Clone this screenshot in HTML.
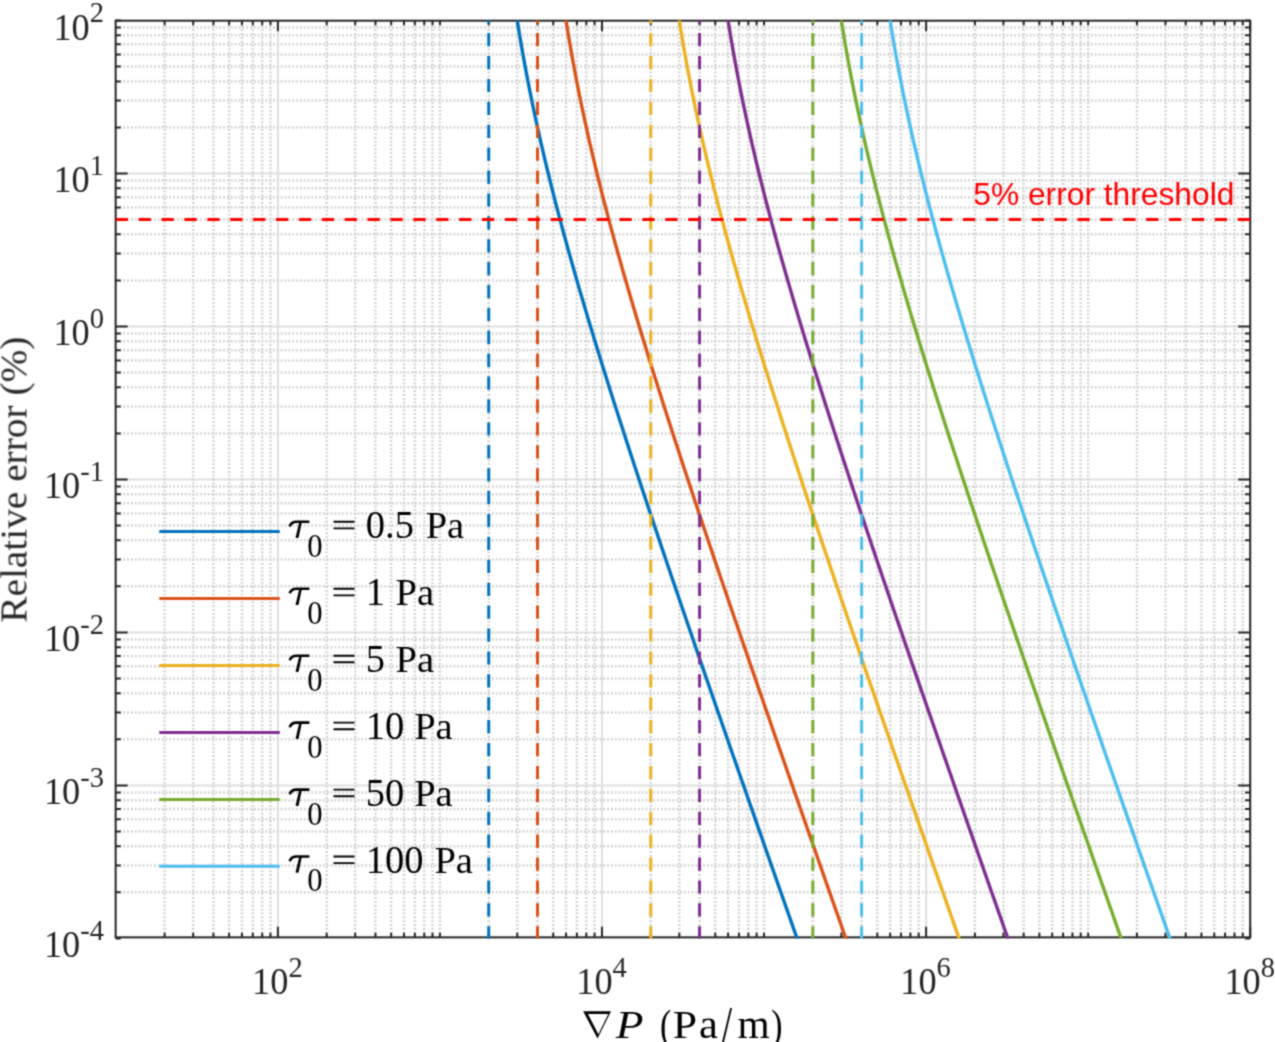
<!DOCTYPE html>
<html><head><meta charset="utf-8"><style>
html,body{margin:0;padding:0;background:#fff;overflow:hidden;width:1275px;height:1042px}
svg{display:block}

text{font-kerning:none}
</style></head><body>
<svg width="1275" height="1042" viewBox="0 0 1275 1042">
<defs><filter id="bl" x="0" y="0" width="1275" height="1042" filterUnits="userSpaceOnUse" color-interpolation-filters="sRGB"><feConvolveMatrix order="3" kernelMatrix="1 3 1 3 9 3 1 3 1" edgeMode="duplicate"/></filter></defs>
<g filter="url(#bl)">
<defs><clipPath id="ax"><rect x="115.65" y="20.5" width="1134.55" height="917.9"/></clipPath></defs>
<rect width="1275" height="1042" fill="#fff"/>
<path d="M277.90 937.35V20.7M602.00 937.35V20.7M926.10 937.35V20.7M115.65 785.40H1250.2M115.65 632.42H1250.2M115.65 479.44H1250.2M115.65 326.46H1250.2M115.65 173.48H1250.2" stroke="#e0e0e0" stroke-width="2.0" fill="none"/>
<path d="M164.63 937.35V20.7M193.17 937.35V20.7M213.41 937.35V20.7M229.12 937.35V20.7M241.95 937.35V20.7M252.80 937.35V20.7M262.20 937.35V20.7M270.48 937.35V20.7M326.68 937.35V20.7M355.22 937.35V20.7M375.46 937.35V20.7M391.17 937.35V20.7M404.00 937.35V20.7M414.85 937.35V20.7M424.25 937.35V20.7M432.53 937.35V20.7M439.95 937.35V20.7M488.73 937.35V20.7M517.27 937.35V20.7M537.51 937.35V20.7M553.22 937.35V20.7M566.05 937.35V20.7M576.90 937.35V20.7M586.30 937.35V20.7M594.58 937.35V20.7M650.78 937.35V20.7M679.32 937.35V20.7M699.56 937.35V20.7M715.27 937.35V20.7M728.10 937.35V20.7M738.95 937.35V20.7M748.35 937.35V20.7M756.63 937.35V20.7M764.05 937.35V20.7M812.83 937.35V20.7M841.37 937.35V20.7M861.61 937.35V20.7M877.32 937.35V20.7M890.15 937.35V20.7M901.00 937.35V20.7M910.40 937.35V20.7M918.68 937.35V20.7M974.88 937.35V20.7M1003.42 937.35V20.7M1023.66 937.35V20.7M1039.37 937.35V20.7M1052.20 937.35V20.7M1063.05 937.35V20.7M1072.45 937.35V20.7M1080.73 937.35V20.7M1088.15 937.35V20.7M1136.93 937.35V20.7M1165.47 937.35V20.7M1185.71 937.35V20.7M1201.42 937.35V20.7M1214.25 937.35V20.7M1225.10 937.35V20.7M1234.50 937.35V20.7M1242.78 937.35V20.7M115.65 892.33H1250.2M115.65 865.39H1250.2M115.65 846.28H1250.2M115.65 831.45H1250.2M115.65 819.34H1250.2M115.65 809.10H1250.2M115.65 800.23H1250.2M115.65 792.40H1250.2M115.65 739.35H1250.2M115.65 712.41H1250.2M115.65 693.30H1250.2M115.65 678.47H1250.2M115.65 666.36H1250.2M115.65 656.12H1250.2M115.65 647.25H1250.2M115.65 639.42H1250.2M115.65 586.37H1250.2M115.65 559.43H1250.2M115.65 540.32H1250.2M115.65 525.49H1250.2M115.65 513.38H1250.2M115.65 503.14H1250.2M115.65 494.27H1250.2M115.65 486.44H1250.2M115.65 433.39H1250.2M115.65 406.45H1250.2M115.65 387.34H1250.2M115.65 372.51H1250.2M115.65 360.40H1250.2M115.65 350.16H1250.2M115.65 341.29H1250.2M115.65 333.46H1250.2M115.65 280.41H1250.2M115.65 253.47H1250.2M115.65 234.36H1250.2M115.65 219.53H1250.2M115.65 207.42H1250.2M115.65 197.18H1250.2M115.65 188.31H1250.2M115.65 180.48H1250.2M115.65 127.43H1250.2M115.65 100.49H1250.2M115.65 81.38H1250.2M115.65 66.55H1250.2M115.65 54.44H1250.2M115.65 44.20H1250.2M115.65 35.33H1250.2M115.65 27.50H1250.2" stroke="#d1d1d1" stroke-width="2.5" stroke-dasharray="1.8 2.04" fill="none"/>
<path d="M164.63 937.35v-4.6M164.63 20.7v4.6M193.17 937.35v-4.6M193.17 20.7v4.6M213.41 937.35v-4.6M213.41 20.7v4.6M229.12 937.35v-4.6M229.12 20.7v4.6M241.95 937.35v-4.6M241.95 20.7v4.6M252.80 937.35v-4.6M252.80 20.7v4.6M262.20 937.35v-4.6M262.20 20.7v4.6M270.48 937.35v-4.6M270.48 20.7v4.6M277.90 937.35v-10.6M277.90 20.7v10.6M326.68 937.35v-4.6M326.68 20.7v4.6M355.22 937.35v-4.6M355.22 20.7v4.6M375.46 937.35v-4.6M375.46 20.7v4.6M391.17 937.35v-4.6M391.17 20.7v4.6M404.00 937.35v-4.6M404.00 20.7v4.6M414.85 937.35v-4.6M414.85 20.7v4.6M424.25 937.35v-4.6M424.25 20.7v4.6M432.53 937.35v-4.6M432.53 20.7v4.6M439.95 937.35v-4.6M439.95 20.7v4.6M488.73 937.35v-4.6M488.73 20.7v4.6M517.27 937.35v-4.6M517.27 20.7v4.6M537.51 937.35v-4.6M537.51 20.7v4.6M553.22 937.35v-4.6M553.22 20.7v4.6M566.05 937.35v-4.6M566.05 20.7v4.6M576.90 937.35v-4.6M576.90 20.7v4.6M586.30 937.35v-4.6M586.30 20.7v4.6M594.58 937.35v-4.6M594.58 20.7v4.6M602.00 937.35v-10.6M602.00 20.7v10.6M650.78 937.35v-4.6M650.78 20.7v4.6M679.32 937.35v-4.6M679.32 20.7v4.6M699.56 937.35v-4.6M699.56 20.7v4.6M715.27 937.35v-4.6M715.27 20.7v4.6M728.10 937.35v-4.6M728.10 20.7v4.6M738.95 937.35v-4.6M738.95 20.7v4.6M748.35 937.35v-4.6M748.35 20.7v4.6M756.63 937.35v-4.6M756.63 20.7v4.6M764.05 937.35v-4.6M764.05 20.7v4.6M812.83 937.35v-4.6M812.83 20.7v4.6M841.37 937.35v-4.6M841.37 20.7v4.6M861.61 937.35v-4.6M861.61 20.7v4.6M877.32 937.35v-4.6M877.32 20.7v4.6M890.15 937.35v-4.6M890.15 20.7v4.6M901.00 937.35v-4.6M901.00 20.7v4.6M910.40 937.35v-4.6M910.40 20.7v4.6M918.68 937.35v-4.6M918.68 20.7v4.6M926.10 937.35v-10.6M926.10 20.7v10.6M974.88 937.35v-4.6M974.88 20.7v4.6M1003.42 937.35v-4.6M1003.42 20.7v4.6M1023.66 937.35v-4.6M1023.66 20.7v4.6M1039.37 937.35v-4.6M1039.37 20.7v4.6M1052.20 937.35v-4.6M1052.20 20.7v4.6M1063.05 937.35v-4.6M1063.05 20.7v4.6M1072.45 937.35v-4.6M1072.45 20.7v4.6M1080.73 937.35v-4.6M1080.73 20.7v4.6M1088.15 937.35v-4.6M1088.15 20.7v4.6M1136.93 937.35v-4.6M1136.93 20.7v4.6M1165.47 937.35v-4.6M1165.47 20.7v4.6M1185.71 937.35v-4.6M1185.71 20.7v4.6M1201.42 937.35v-4.6M1201.42 20.7v4.6M1214.25 937.35v-4.6M1214.25 20.7v4.6M1225.10 937.35v-4.6M1225.10 20.7v4.6M1234.50 937.35v-4.6M1234.50 20.7v4.6M1242.78 937.35v-4.6M1242.78 20.7v4.6M1250.20 937.35v-10.6M1250.20 20.7v10.6M115.65 938.38h5.1M1250.2 938.38h-5.1M115.65 892.33h5.1M1250.2 892.33h-5.1M115.65 865.39h5.1M1250.2 865.39h-5.1M115.65 846.28h5.1M1250.2 846.28h-5.1M115.65 831.45h5.1M1250.2 831.45h-5.1M115.65 819.34h5.1M1250.2 819.34h-5.1M115.65 809.10h5.1M1250.2 809.10h-5.1M115.65 800.23h5.1M1250.2 800.23h-5.1M115.65 792.40h5.1M1250.2 792.40h-5.1M115.65 785.40h12.0M1250.2 785.40h-12.0M115.65 739.35h5.1M1250.2 739.35h-5.1M115.65 712.41h5.1M1250.2 712.41h-5.1M115.65 693.30h5.1M1250.2 693.30h-5.1M115.65 678.47h5.1M1250.2 678.47h-5.1M115.65 666.36h5.1M1250.2 666.36h-5.1M115.65 656.12h5.1M1250.2 656.12h-5.1M115.65 647.25h5.1M1250.2 647.25h-5.1M115.65 639.42h5.1M1250.2 639.42h-5.1M115.65 632.42h12.0M1250.2 632.42h-12.0M115.65 586.37h5.1M1250.2 586.37h-5.1M115.65 559.43h5.1M1250.2 559.43h-5.1M115.65 540.32h5.1M1250.2 540.32h-5.1M115.65 525.49h5.1M1250.2 525.49h-5.1M115.65 513.38h5.1M1250.2 513.38h-5.1M115.65 503.14h5.1M1250.2 503.14h-5.1M115.65 494.27h5.1M1250.2 494.27h-5.1M115.65 486.44h5.1M1250.2 486.44h-5.1M115.65 479.44h12.0M1250.2 479.44h-12.0M115.65 433.39h5.1M1250.2 433.39h-5.1M115.65 406.45h5.1M1250.2 406.45h-5.1M115.65 387.34h5.1M1250.2 387.34h-5.1M115.65 372.51h5.1M1250.2 372.51h-5.1M115.65 360.40h5.1M1250.2 360.40h-5.1M115.65 350.16h5.1M1250.2 350.16h-5.1M115.65 341.29h5.1M1250.2 341.29h-5.1M115.65 333.46h5.1M1250.2 333.46h-5.1M115.65 326.46h12.0M1250.2 326.46h-12.0M115.65 280.41h5.1M1250.2 280.41h-5.1M115.65 253.47h5.1M1250.2 253.47h-5.1M115.65 234.36h5.1M1250.2 234.36h-5.1M115.65 219.53h5.1M1250.2 219.53h-5.1M115.65 207.42h5.1M1250.2 207.42h-5.1M115.65 197.18h5.1M1250.2 197.18h-5.1M115.65 188.31h5.1M1250.2 188.31h-5.1M115.65 180.48h5.1M1250.2 180.48h-5.1M115.65 173.48h12.0M1250.2 173.48h-12.0M115.65 127.43h5.1M1250.2 127.43h-5.1M115.65 100.49h5.1M1250.2 100.49h-5.1M115.65 81.38h5.1M1250.2 81.38h-5.1M115.65 66.55h5.1M1250.2 66.55h-5.1M115.65 54.44h5.1M1250.2 54.44h-5.1M115.65 44.20h5.1M1250.2 44.20h-5.1M115.65 35.33h5.1M1250.2 35.33h-5.1M115.65 27.50h5.1M1250.2 27.50h-5.1M115.65 20.50h5.1M1250.2 20.50h-5.1" stroke="#262626" stroke-width="2.0" fill="none"/>
<rect x="115.65" y="20.7" width="1134.55" height="916.65" stroke="#262626" stroke-width="2.0" fill="none"/>
<g clip-path="url(#ax)" fill="none">
<path d="M512.41 -12.56 L513.58 -4.21 L514.74 3.86 L515.90 11.66 L517.07 19.23 L518.23 26.57 L519.40 33.72 L520.56 40.68 L521.72 47.48 L522.89 54.11 L524.05 60.59 L525.22 66.94 L526.38 73.15 L527.54 79.25 L528.71 85.23 L529.87 91.11 L531.04 96.88 L532.20 102.56 L533.36 108.15 L534.53 113.66 L535.69 119.09 L536.86 124.44 L538.02 129.72 L539.18 134.93 L540.35 140.07 L541.51 145.16 L542.68 150.18 L543.84 155.15 L545.00 160.07 L546.17 164.93 L547.33 169.75 L548.50 174.52 L549.66 179.24 L550.82 183.92 L551.99 188.56 L553.15 193.16 L554.32 197.72 L555.48 202.25 L556.64 206.74 L557.81 211.19 L558.97 215.62 L560.14 220.01 L561.30 224.37 L562.46 228.71 L563.63 233.01 L564.79 237.29 L565.96 241.55 L567.12 245.77 L568.28 249.98 L569.45 254.16 L570.61 258.32 L571.78 262.45 L572.94 266.57 L574.10 270.66 L575.27 274.74 L576.43 278.79 L577.60 282.83 L578.76 286.85 L579.92 290.85 L581.09 294.83 L582.25 298.80 L583.42 302.75 L584.58 306.69 L585.74 310.61 L586.91 314.51 L588.07 318.41 L589.24 322.29 L590.40 326.15 L591.56 330.00 L592.73 333.84 L593.89 337.67 L595.06 341.49 L596.22 345.29 L597.38 349.08 L598.55 352.87 L599.71 356.64 L600.88 360.40 L602.04 364.15 L603.20 367.89 L604.37 371.62 L605.53 375.34 L606.70 379.06 L607.86 382.76 L609.02 386.45 L610.19 390.14 L611.35 393.82 L612.52 397.49 L613.68 401.15 L614.84 404.81 L616.01 408.46 L617.17 412.10 L618.34 415.73 L619.50 419.36 L620.66 422.98 L621.83 426.59 L622.99 430.20 L624.16 433.80 L625.32 437.39 L626.48 440.98 L627.65 444.56 L628.81 448.14 L629.98 451.71 L631.14 455.28 L632.30 458.84 L633.47 462.39 L634.63 465.94 L635.80 469.49 L636.96 473.03 L638.12 476.57 L639.29 480.10 L640.45 483.62 L641.62 487.15 L642.78 490.66 L643.94 494.18 L645.11 497.69 L646.27 501.19 L647.44 504.69 L648.60 508.19 L649.76 511.68 L650.93 515.17 L652.09 518.66 L653.26 522.14 L654.42 525.62 L655.58 529.10 L656.75 532.57 L657.91 536.04 L659.08 539.50 L660.24 542.97 L661.40 546.43 L662.57 549.88 L663.73 553.34 L664.90 556.79 L666.06 560.23 L667.22 563.68 L668.39 567.12 L669.55 570.56 L670.72 574.00 L671.88 577.43 L673.04 580.86 L674.21 584.29 L675.37 587.72 L676.54 591.15 L677.70 594.57 L678.86 597.99 L680.03 601.41 L681.19 604.82 L682.36 608.24 L683.52 611.65 L684.68 615.06 L685.85 618.46 L687.01 621.87 L688.18 625.27 L689.34 628.67 L690.50 632.07 L691.67 635.47 L692.83 638.87 L694.00 642.26 L695.16 645.65 L696.32 649.04 L697.49 652.43 L698.65 655.82 L699.82 659.21 L700.98 662.59 L702.14 665.97 L703.31 669.36 L704.47 672.74 L705.64 676.11 L706.80 679.49 L707.97 682.87 L709.13 686.24 L710.29 689.61 L711.46 692.98 L712.62 696.35 L713.79 699.72 L714.95 703.09 L716.11 706.46 L717.28 709.82 L718.44 713.19 L719.61 716.55 L720.77 719.91 L721.93 723.27 L723.10 726.63 L724.26 729.99 L725.43 733.35 L726.59 736.70 L727.75 740.06 L728.92 743.41 L730.08 746.76 L731.25 750.12 L732.41 753.47 L733.57 756.82 L734.74 760.17 L735.90 763.52 L737.07 766.86 L738.23 770.21 L739.39 773.56 L740.56 776.90 L741.72 780.25 L742.89 783.59 L744.05 786.93 L745.21 790.27 L746.38 793.61 L747.54 796.95 L748.71 800.29 L749.87 803.63 L751.03 806.97 L752.20 810.31 L753.36 813.64 L754.53 816.98 L755.69 820.32 L756.85 823.65 L758.02 826.98 L759.18 830.32 L760.35 833.65 L761.51 836.98 L762.67 840.31 L763.84 843.64 L765.00 846.98 L766.17 850.31 L767.33 853.63 L768.49 856.96 L769.66 860.29 L770.82 863.62 L771.99 866.95 L773.15 870.27 L774.31 873.60 L775.48 876.92 L776.64 880.25 L777.81 883.57 L778.97 886.90 L780.13 890.22 L781.30 893.54 L782.46 896.87 L783.63 900.19 L784.79 903.51 L785.95 906.83 L787.12 910.15 L788.28 913.47 L789.45 916.79 L790.61 920.11 L791.77 923.43 L792.94 926.75 L794.10 930.07 L795.27 933.39 L796.43 936.71 L797.59 940.03 L798.76 943.34 L799.92 946.66 L801.09 949.98 L802.25 953.29 L803.41 956.61 L804.58 959.92 L805.74 963.24 L806.91 966.55 L808.07 969.87 L809.23 973.18 L810.40 976.50 L811.56 979.81 L812.73 983.12 L813.89 986.44 L815.05 989.75 L816.22 993.06 L817.38 996.38 L818.55 999.69 L819.71 1003.00 L820.87 1006.31 L822.04 1009.62 L823.20 1012.93 L824.37 1016.24 L825.53 1019.56 L826.69 1022.87 L827.86 1026.18 L829.02 1029.49 L830.19 1032.80 L831.35 1036.11 L832.51 1039.41 L833.68 1042.72 L834.84 1046.03 L836.01 1049.34 L837.17 1052.65 L838.33 1055.96 L839.50 1059.27 L840.66 1062.57 L841.83 1065.88 L842.99 1069.19 L844.15 1072.50 L845.32 1075.80 L846.48 1079.11 L847.65 1082.42 L848.81 1085.72 L849.97 1089.03 L851.14 1092.34 L852.30 1095.64 L853.47 1098.95 L854.63 1102.25 L855.79 1105.56 L856.96 1108.87 L858.12 1112.17 L859.29 1115.48 L860.45 1118.78 L861.61 1122.09" stroke="#0072BD" stroke-width="3.4" stroke-linejoin="round"/>
<path d="M488.73 939.4V20" stroke="#0072BD" stroke-width="3.0" stroke-dasharray="13.2 9.7"/>
<path d="M561.19 -12.56 L562.36 -4.21 L563.52 3.86 L564.69 11.66 L565.85 19.23 L567.01 26.57 L568.18 33.72 L569.34 40.68 L570.51 47.48 L571.67 54.11 L572.83 60.59 L574.00 66.94 L575.16 73.15 L576.33 79.25 L577.49 85.23 L578.65 91.11 L579.82 96.88 L580.98 102.56 L582.15 108.15 L583.31 113.66 L584.47 119.09 L585.64 124.44 L586.80 129.72 L587.97 134.93 L589.13 140.07 L590.29 145.16 L591.46 150.18 L592.62 155.15 L593.79 160.07 L594.95 164.93 L596.11 169.75 L597.28 174.52 L598.44 179.24 L599.61 183.92 L600.77 188.56 L601.93 193.16 L603.10 197.72 L604.26 202.25 L605.43 206.74 L606.59 211.19 L607.75 215.62 L608.92 220.01 L610.08 224.37 L611.25 228.71 L612.41 233.01 L613.57 237.29 L614.74 241.55 L615.90 245.77 L617.07 249.98 L618.23 254.16 L619.39 258.32 L620.56 262.45 L621.72 266.57 L622.89 270.66 L624.05 274.74 L625.21 278.79 L626.38 282.83 L627.54 286.85 L628.71 290.85 L629.87 294.83 L631.03 298.80 L632.20 302.75 L633.36 306.69 L634.53 310.61 L635.69 314.51 L636.85 318.41 L638.02 322.29 L639.18 326.15 L640.35 330.00 L641.51 333.84 L642.67 337.67 L643.84 341.49 L645.00 345.29 L646.17 349.08 L647.33 352.87 L648.49 356.64 L649.66 360.40 L650.82 364.15 L651.99 367.89 L653.15 371.62 L654.31 375.34 L655.48 379.06 L656.64 382.76 L657.81 386.45 L658.97 390.14 L660.13 393.82 L661.30 397.49 L662.46 401.15 L663.63 404.81 L664.79 408.46 L665.95 412.10 L667.12 415.73 L668.28 419.36 L669.45 422.98 L670.61 426.59 L671.77 430.20 L672.94 433.80 L674.10 437.39 L675.27 440.98 L676.43 444.56 L677.59 448.14 L678.76 451.71 L679.92 455.28 L681.09 458.84 L682.25 462.39 L683.41 465.94 L684.58 469.49 L685.74 473.03 L686.91 476.57 L688.07 480.10 L689.23 483.62 L690.40 487.15 L691.56 490.66 L692.73 494.18 L693.89 497.69 L695.05 501.19 L696.22 504.69 L697.38 508.19 L698.55 511.68 L699.71 515.17 L700.87 518.66 L702.04 522.14 L703.20 525.62 L704.37 529.10 L705.53 532.57 L706.69 536.04 L707.86 539.50 L709.02 542.97 L710.19 546.43 L711.35 549.88 L712.51 553.34 L713.68 556.79 L714.84 560.23 L716.01 563.68 L717.17 567.12 L718.33 570.56 L719.50 574.00 L720.66 577.43 L721.83 580.86 L722.99 584.29 L724.15 587.72 L725.32 591.15 L726.48 594.57 L727.65 597.99 L728.81 601.41 L729.97 604.82 L731.14 608.24 L732.30 611.65 L733.47 615.06 L734.63 618.46 L735.79 621.87 L736.96 625.27 L738.12 628.67 L739.29 632.07 L740.45 635.47 L741.61 638.87 L742.78 642.26 L743.94 645.65 L745.11 649.04 L746.27 652.43 L747.43 655.82 L748.60 659.21 L749.76 662.59 L750.93 665.97 L752.09 669.36 L753.25 672.74 L754.42 676.11 L755.58 679.49 L756.75 682.87 L757.91 686.24 L759.07 689.61 L760.24 692.98 L761.40 696.35 L762.57 699.72 L763.73 703.09 L764.89 706.46 L766.06 709.82 L767.22 713.19 L768.39 716.55 L769.55 719.91 L770.71 723.27 L771.88 726.63 L773.04 729.99 L774.21 733.35 L775.37 736.70 L776.54 740.06 L777.70 743.41 L778.86 746.76 L780.03 750.12 L781.19 753.47 L782.36 756.82 L783.52 760.17 L784.68 763.52 L785.85 766.86 L787.01 770.21 L788.18 773.56 L789.34 776.90 L790.50 780.25 L791.67 783.59 L792.83 786.93 L794.00 790.27 L795.16 793.61 L796.32 796.95 L797.49 800.29 L798.65 803.63 L799.82 806.97 L800.98 810.31 L802.14 813.64 L803.31 816.98 L804.47 820.32 L805.64 823.65 L806.80 826.98 L807.96 830.32 L809.13 833.65 L810.29 836.98 L811.46 840.31 L812.62 843.64 L813.78 846.98 L814.95 850.31 L816.11 853.63 L817.28 856.96 L818.44 860.29 L819.60 863.62 L820.77 866.95 L821.93 870.27 L823.10 873.60 L824.26 876.92 L825.42 880.25 L826.59 883.57 L827.75 886.90 L828.92 890.22 L830.08 893.54 L831.24 896.87 L832.41 900.19 L833.57 903.51 L834.74 906.83 L835.90 910.15 L837.06 913.47 L838.23 916.79 L839.39 920.11 L840.56 923.43 L841.72 926.75 L842.88 930.07 L844.05 933.39 L845.21 936.71 L846.38 940.03 L847.54 943.34 L848.70 946.66 L849.87 949.98 L851.03 953.29 L852.20 956.61 L853.36 959.92 L854.52 963.24 L855.69 966.55 L856.85 969.87 L858.02 973.18 L859.18 976.50 L860.34 979.81 L861.51 983.12 L862.67 986.44 L863.84 989.75 L865.00 993.06 L866.16 996.38 L867.33 999.69 L868.49 1003.00 L869.66 1006.31 L870.82 1009.62 L871.98 1012.93 L873.15 1016.24 L874.31 1019.56 L875.48 1022.87 L876.64 1026.18 L877.80 1029.49 L878.97 1032.80 L880.13 1036.11 L881.30 1039.41 L882.46 1042.72 L883.62 1046.03 L884.79 1049.34 L885.95 1052.65 L887.12 1055.96 L888.28 1059.27 L889.44 1062.57 L890.61 1065.88 L891.77 1069.19 L892.94 1072.50 L894.10 1075.80 L895.26 1079.11 L896.43 1082.42 L897.59 1085.72 L898.76 1089.03 L899.92 1092.34 L901.08 1095.64 L902.25 1098.95 L903.41 1102.25 L904.58 1105.56 L905.74 1108.87 L906.90 1112.17 L908.07 1115.48 L909.23 1118.78 L910.40 1122.09" stroke="#D95319" stroke-width="3.4" stroke-linejoin="round"/>
<path d="M537.51 939.4V20" stroke="#D95319" stroke-width="3.0" stroke-dasharray="13.2 9.7"/>
<path d="M674.46 -12.56 L675.63 -4.21 L676.79 3.86 L677.95 11.66 L679.12 19.23 L680.28 26.57 L681.45 33.72 L682.61 40.68 L683.77 47.48 L684.94 54.11 L686.10 60.59 L687.27 66.94 L688.43 73.15 L689.59 79.25 L690.76 85.23 L691.92 91.11 L693.09 96.88 L694.25 102.56 L695.41 108.15 L696.58 113.66 L697.74 119.09 L698.91 124.44 L700.07 129.72 L701.23 134.93 L702.40 140.07 L703.56 145.16 L704.73 150.18 L705.89 155.15 L707.05 160.07 L708.22 164.93 L709.38 169.75 L710.55 174.52 L711.71 179.24 L712.87 183.92 L714.04 188.56 L715.20 193.16 L716.37 197.72 L717.53 202.25 L718.69 206.74 L719.86 211.19 L721.02 215.62 L722.19 220.01 L723.35 224.37 L724.51 228.71 L725.68 233.01 L726.84 237.29 L728.01 241.55 L729.17 245.77 L730.33 249.98 L731.50 254.16 L732.66 258.32 L733.83 262.45 L734.99 266.57 L736.15 270.66 L737.32 274.74 L738.48 278.79 L739.65 282.83 L740.81 286.85 L741.97 290.85 L743.14 294.83 L744.30 298.80 L745.47 302.75 L746.63 306.69 L747.79 310.61 L748.96 314.51 L750.12 318.41 L751.29 322.29 L752.45 326.15 L753.61 330.00 L754.78 333.84 L755.94 337.67 L757.11 341.49 L758.27 345.29 L759.43 349.08 L760.60 352.87 L761.76 356.64 L762.93 360.40 L764.09 364.15 L765.25 367.89 L766.42 371.62 L767.58 375.34 L768.75 379.06 L769.91 382.76 L771.07 386.45 L772.24 390.14 L773.40 393.82 L774.57 397.49 L775.73 401.15 L776.89 404.81 L778.06 408.46 L779.22 412.10 L780.39 415.73 L781.55 419.36 L782.71 422.98 L783.88 426.59 L785.04 430.20 L786.21 433.80 L787.37 437.39 L788.53 440.98 L789.70 444.56 L790.86 448.14 L792.03 451.71 L793.19 455.28 L794.35 458.84 L795.52 462.39 L796.68 465.94 L797.85 469.49 L799.01 473.03 L800.17 476.57 L801.34 480.10 L802.50 483.62 L803.67 487.15 L804.83 490.66 L805.99 494.18 L807.16 497.69 L808.32 501.19 L809.49 504.69 L810.65 508.19 L811.81 511.68 L812.98 515.17 L814.14 518.66 L815.31 522.14 L816.47 525.62 L817.63 529.10 L818.80 532.57 L819.96 536.04 L821.13 539.50 L822.29 542.97 L823.45 546.43 L824.62 549.88 L825.78 553.34 L826.95 556.79 L828.11 560.23 L829.27 563.68 L830.44 567.12 L831.60 570.56 L832.77 574.00 L833.93 577.43 L835.09 580.86 L836.26 584.29 L837.42 587.72 L838.59 591.15 L839.75 594.57 L840.91 597.99 L842.08 601.41 L843.24 604.82 L844.41 608.24 L845.57 611.65 L846.73 615.06 L847.90 618.46 L849.06 621.87 L850.23 625.27 L851.39 628.67 L852.55 632.07 L853.72 635.47 L854.88 638.87 L856.05 642.26 L857.21 645.65 L858.37 649.04 L859.54 652.43 L860.70 655.82 L861.87 659.21 L863.03 662.59 L864.19 665.97 L865.36 669.36 L866.52 672.74 L867.69 676.11 L868.85 679.49 L870.02 682.87 L871.18 686.24 L872.34 689.61 L873.51 692.98 L874.67 696.35 L875.84 699.72 L877.00 703.09 L878.16 706.46 L879.33 709.82 L880.49 713.19 L881.66 716.55 L882.82 719.91 L883.98 723.27 L885.15 726.63 L886.31 729.99 L887.48 733.35 L888.64 736.70 L889.80 740.06 L890.97 743.41 L892.13 746.76 L893.30 750.12 L894.46 753.47 L895.62 756.82 L896.79 760.17 L897.95 763.52 L899.12 766.86 L900.28 770.21 L901.44 773.56 L902.61 776.90 L903.77 780.25 L904.94 783.59 L906.10 786.93 L907.26 790.27 L908.43 793.61 L909.59 796.95 L910.76 800.29 L911.92 803.63 L913.08 806.97 L914.25 810.31 L915.41 813.64 L916.58 816.98 L917.74 820.32 L918.90 823.65 L920.07 826.98 L921.23 830.32 L922.40 833.65 L923.56 836.98 L924.72 840.31 L925.89 843.64 L927.05 846.98 L928.22 850.31 L929.38 853.63 L930.54 856.96 L931.71 860.29 L932.87 863.62 L934.04 866.95 L935.20 870.27 L936.36 873.60 L937.53 876.92 L938.69 880.25 L939.86 883.57 L941.02 886.90 L942.18 890.22 L943.35 893.54 L944.51 896.87 L945.68 900.19 L946.84 903.51 L948.00 906.83 L949.17 910.15 L950.33 913.47 L951.50 916.79 L952.66 920.11 L953.82 923.43 L954.99 926.75 L956.15 930.07 L957.32 933.39 L958.48 936.71 L959.64 940.03 L960.81 943.34 L961.97 946.66 L963.14 949.98 L964.30 953.29 L965.46 956.61 L966.63 959.92 L967.79 963.24 L968.96 966.55 L970.12 969.87 L971.28 973.18 L972.45 976.50 L973.61 979.81 L974.78 983.12 L975.94 986.44 L977.10 989.75 L978.27 993.06 L979.43 996.38 L980.60 999.69 L981.76 1003.00 L982.92 1006.31 L984.09 1009.62 L985.25 1012.93 L986.42 1016.24 L987.58 1019.56 L988.74 1022.87 L989.91 1026.18 L991.07 1029.49 L992.24 1032.80 L993.40 1036.11 L994.56 1039.41 L995.73 1042.72 L996.89 1046.03 L998.06 1049.34 L999.22 1052.65 L1000.38 1055.96 L1001.55 1059.27 L1002.71 1062.57 L1003.88 1065.88 L1005.04 1069.19 L1006.20 1072.50 L1007.37 1075.80 L1008.53 1079.11 L1009.70 1082.42 L1010.86 1085.72 L1012.02 1089.03 L1013.19 1092.34 L1014.35 1095.64 L1015.52 1098.95 L1016.68 1102.25 L1017.84 1105.56 L1019.01 1108.87 L1020.17 1112.17 L1021.34 1115.48 L1022.50 1118.78 L1023.66 1122.09" stroke="#EDB120" stroke-width="3.4" stroke-linejoin="round"/>
<path d="M650.78 939.4V20" stroke="#EDB120" stroke-width="3.0" stroke-dasharray="13.2 9.7"/>
<path d="M723.24 -12.56 L724.41 -4.21 L725.57 3.86 L726.74 11.66 L727.90 19.23 L729.06 26.57 L730.23 33.72 L731.39 40.68 L732.56 47.48 L733.72 54.11 L734.88 60.59 L736.05 66.94 L737.21 73.15 L738.38 79.25 L739.54 85.23 L740.70 91.11 L741.87 96.88 L743.03 102.56 L744.20 108.15 L745.36 113.66 L746.52 119.09 L747.69 124.44 L748.85 129.72 L750.02 134.93 L751.18 140.07 L752.34 145.16 L753.51 150.18 L754.67 155.15 L755.84 160.07 L757.00 164.93 L758.16 169.75 L759.33 174.52 L760.49 179.24 L761.66 183.92 L762.82 188.56 L763.98 193.16 L765.15 197.72 L766.31 202.25 L767.48 206.74 L768.64 211.19 L769.80 215.62 L770.97 220.01 L772.13 224.37 L773.30 228.71 L774.46 233.01 L775.62 237.29 L776.79 241.55 L777.95 245.77 L779.12 249.98 L780.28 254.16 L781.44 258.32 L782.61 262.45 L783.77 266.57 L784.94 270.66 L786.10 274.74 L787.26 278.79 L788.43 282.83 L789.59 286.85 L790.76 290.85 L791.92 294.83 L793.08 298.80 L794.25 302.75 L795.41 306.69 L796.58 310.61 L797.74 314.51 L798.90 318.41 L800.07 322.29 L801.23 326.15 L802.40 330.00 L803.56 333.84 L804.72 337.67 L805.89 341.49 L807.05 345.29 L808.22 349.08 L809.38 352.87 L810.54 356.64 L811.71 360.40 L812.87 364.15 L814.04 367.89 L815.20 371.62 L816.36 375.34 L817.53 379.06 L818.69 382.76 L819.86 386.45 L821.02 390.14 L822.18 393.82 L823.35 397.49 L824.51 401.15 L825.68 404.81 L826.84 408.46 L828.00 412.10 L829.17 415.73 L830.33 419.36 L831.50 422.98 L832.66 426.59 L833.82 430.20 L834.99 433.80 L836.15 437.39 L837.32 440.98 L838.48 444.56 L839.64 448.14 L840.81 451.71 L841.97 455.28 L843.14 458.84 L844.30 462.39 L845.46 465.94 L846.63 469.49 L847.79 473.03 L848.96 476.57 L850.12 480.10 L851.28 483.62 L852.45 487.15 L853.61 490.66 L854.78 494.18 L855.94 497.69 L857.10 501.19 L858.27 504.69 L859.43 508.19 L860.60 511.68 L861.76 515.17 L862.92 518.66 L864.09 522.14 L865.25 525.62 L866.42 529.10 L867.58 532.57 L868.74 536.04 L869.91 539.50 L871.07 542.97 L872.24 546.43 L873.40 549.88 L874.56 553.34 L875.73 556.79 L876.89 560.23 L878.06 563.68 L879.22 567.12 L880.38 570.56 L881.55 574.00 L882.71 577.43 L883.88 580.86 L885.04 584.29 L886.20 587.72 L887.37 591.15 L888.53 594.57 L889.70 597.99 L890.86 601.41 L892.02 604.82 L893.19 608.24 L894.35 611.65 L895.52 615.06 L896.68 618.46 L897.84 621.87 L899.01 625.27 L900.17 628.67 L901.34 632.07 L902.50 635.47 L903.66 638.87 L904.83 642.26 L905.99 645.65 L907.16 649.04 L908.32 652.43 L909.48 655.82 L910.65 659.21 L911.81 662.59 L912.98 665.97 L914.14 669.36 L915.30 672.74 L916.47 676.11 L917.63 679.49 L918.80 682.87 L919.96 686.24 L921.12 689.61 L922.29 692.98 L923.45 696.35 L924.62 699.72 L925.78 703.09 L926.94 706.46 L928.11 709.82 L929.27 713.19 L930.44 716.55 L931.60 719.91 L932.76 723.27 L933.93 726.63 L935.09 729.99 L936.26 733.35 L937.42 736.70 L938.59 740.06 L939.75 743.41 L940.91 746.76 L942.08 750.12 L943.24 753.47 L944.41 756.82 L945.57 760.17 L946.73 763.52 L947.90 766.86 L949.06 770.21 L950.23 773.56 L951.39 776.90 L952.55 780.25 L953.72 783.59 L954.88 786.93 L956.05 790.27 L957.21 793.61 L958.37 796.95 L959.54 800.29 L960.70 803.63 L961.87 806.97 L963.03 810.31 L964.19 813.64 L965.36 816.98 L966.52 820.32 L967.69 823.65 L968.85 826.98 L970.01 830.32 L971.18 833.65 L972.34 836.98 L973.51 840.31 L974.67 843.64 L975.83 846.98 L977.00 850.31 L978.16 853.63 L979.33 856.96 L980.49 860.29 L981.65 863.62 L982.82 866.95 L983.98 870.27 L985.15 873.60 L986.31 876.92 L987.47 880.25 L988.64 883.57 L989.80 886.90 L990.97 890.22 L992.13 893.54 L993.29 896.87 L994.46 900.19 L995.62 903.51 L996.79 906.83 L997.95 910.15 L999.11 913.47 L1000.28 916.79 L1001.44 920.11 L1002.61 923.43 L1003.77 926.75 L1004.93 930.07 L1006.10 933.39 L1007.26 936.71 L1008.43 940.03 L1009.59 943.34 L1010.75 946.66 L1011.92 949.98 L1013.08 953.29 L1014.25 956.61 L1015.41 959.92 L1016.57 963.24 L1017.74 966.55 L1018.90 969.87 L1020.07 973.18 L1021.23 976.50 L1022.39 979.81 L1023.56 983.12 L1024.72 986.44 L1025.89 989.75 L1027.05 993.06 L1028.21 996.38 L1029.38 999.69 L1030.54 1003.00 L1031.71 1006.31 L1032.87 1009.62 L1034.03 1012.93 L1035.20 1016.24 L1036.36 1019.56 L1037.53 1022.87 L1038.69 1026.18 L1039.85 1029.49 L1041.02 1032.80 L1042.18 1036.11 L1043.35 1039.41 L1044.51 1042.72 L1045.67 1046.03 L1046.84 1049.34 L1048.00 1052.65 L1049.17 1055.96 L1050.33 1059.27 L1051.49 1062.57 L1052.66 1065.88 L1053.82 1069.19 L1054.99 1072.50 L1056.15 1075.80 L1057.31 1079.11 L1058.48 1082.42 L1059.64 1085.72 L1060.81 1089.03 L1061.97 1092.34 L1063.13 1095.64 L1064.30 1098.95 L1065.46 1102.25 L1066.63 1105.56 L1067.79 1108.87 L1068.95 1112.17 L1070.12 1115.48 L1071.28 1118.78 L1072.45 1122.09" stroke="#7E2F8E" stroke-width="3.4" stroke-linejoin="round"/>
<path d="M699.56 939.4V20" stroke="#7E2F8E" stroke-width="3.0" stroke-dasharray="13.2 9.7"/>
<path d="M836.51 -12.56 L837.68 -4.21 L838.84 3.86 L840.00 11.66 L841.17 19.23 L842.33 26.57 L843.50 33.72 L844.66 40.68 L845.82 47.48 L846.99 54.11 L848.15 60.59 L849.32 66.94 L850.48 73.15 L851.64 79.25 L852.81 85.23 L853.97 91.11 L855.14 96.88 L856.30 102.56 L857.46 108.15 L858.63 113.66 L859.79 119.09 L860.96 124.44 L862.12 129.72 L863.28 134.93 L864.45 140.07 L865.61 145.16 L866.78 150.18 L867.94 155.15 L869.10 160.07 L870.27 164.93 L871.43 169.75 L872.60 174.52 L873.76 179.24 L874.92 183.92 L876.09 188.56 L877.25 193.16 L878.42 197.72 L879.58 202.25 L880.74 206.74 L881.91 211.19 L883.07 215.62 L884.24 220.01 L885.40 224.37 L886.56 228.71 L887.73 233.01 L888.89 237.29 L890.06 241.55 L891.22 245.77 L892.38 249.98 L893.55 254.16 L894.71 258.32 L895.88 262.45 L897.04 266.57 L898.20 270.66 L899.37 274.74 L900.53 278.79 L901.70 282.83 L902.86 286.85 L904.02 290.85 L905.19 294.83 L906.35 298.80 L907.52 302.75 L908.68 306.69 L909.84 310.61 L911.01 314.51 L912.17 318.41 L913.34 322.29 L914.50 326.15 L915.66 330.00 L916.83 333.84 L917.99 337.67 L919.16 341.49 L920.32 345.29 L921.48 349.08 L922.65 352.87 L923.81 356.64 L924.98 360.40 L926.14 364.15 L927.30 367.89 L928.47 371.62 L929.63 375.34 L930.80 379.06 L931.96 382.76 L933.12 386.45 L934.29 390.14 L935.45 393.82 L936.62 397.49 L937.78 401.15 L938.94 404.81 L940.11 408.46 L941.27 412.10 L942.44 415.73 L943.60 419.36 L944.76 422.98 L945.93 426.59 L947.09 430.20 L948.26 433.80 L949.42 437.39 L950.58 440.98 L951.75 444.56 L952.91 448.14 L954.08 451.71 L955.24 455.28 L956.40 458.84 L957.57 462.39 L958.73 465.94 L959.90 469.49 L961.06 473.03 L962.22 476.57 L963.39 480.10 L964.55 483.62 L965.72 487.15 L966.88 490.66 L968.04 494.18 L969.21 497.69 L970.37 501.19 L971.54 504.69 L972.70 508.19 L973.86 511.68 L975.03 515.17 L976.19 518.66 L977.36 522.14 L978.52 525.62 L979.68 529.10 L980.85 532.57 L982.01 536.04 L983.18 539.50 L984.34 542.97 L985.50 546.43 L986.67 549.88 L987.83 553.34 L989.00 556.79 L990.16 560.23 L991.32 563.68 L992.49 567.12 L993.65 570.56 L994.82 574.00 L995.98 577.43 L997.14 580.86 L998.31 584.29 L999.47 587.72 L1000.64 591.15 L1001.80 594.57 L1002.96 597.99 L1004.13 601.41 L1005.29 604.82 L1006.46 608.24 L1007.62 611.65 L1008.78 615.06 L1009.95 618.46 L1011.11 621.87 L1012.28 625.27 L1013.44 628.67 L1014.60 632.07 L1015.77 635.47 L1016.93 638.87 L1018.10 642.26 L1019.26 645.65 L1020.42 649.04 L1021.59 652.43 L1022.75 655.82 L1023.92 659.21 L1025.08 662.59 L1026.24 665.97 L1027.41 669.36 L1028.57 672.74 L1029.74 676.11 L1030.90 679.49 L1032.07 682.87 L1033.23 686.24 L1034.39 689.61 L1035.56 692.98 L1036.72 696.35 L1037.89 699.72 L1039.05 703.09 L1040.21 706.46 L1041.38 709.82 L1042.54 713.19 L1043.71 716.55 L1044.87 719.91 L1046.03 723.27 L1047.20 726.63 L1048.36 729.99 L1049.53 733.35 L1050.69 736.70 L1051.85 740.06 L1053.02 743.41 L1054.18 746.76 L1055.35 750.12 L1056.51 753.47 L1057.67 756.82 L1058.84 760.17 L1060.00 763.52 L1061.17 766.86 L1062.33 770.21 L1063.49 773.56 L1064.66 776.90 L1065.82 780.25 L1066.99 783.59 L1068.15 786.93 L1069.31 790.27 L1070.48 793.61 L1071.64 796.95 L1072.81 800.29 L1073.97 803.63 L1075.13 806.97 L1076.30 810.31 L1077.46 813.64 L1078.63 816.98 L1079.79 820.32 L1080.95 823.65 L1082.12 826.98 L1083.28 830.32 L1084.45 833.65 L1085.61 836.98 L1086.77 840.31 L1087.94 843.64 L1089.10 846.98 L1090.27 850.31 L1091.43 853.63 L1092.59 856.96 L1093.76 860.29 L1094.92 863.62 L1096.09 866.95 L1097.25 870.27 L1098.41 873.60 L1099.58 876.92 L1100.74 880.25 L1101.91 883.57 L1103.07 886.90 L1104.23 890.22 L1105.40 893.54 L1106.56 896.87 L1107.73 900.19 L1108.89 903.51 L1110.05 906.83 L1111.22 910.15 L1112.38 913.47 L1113.55 916.79 L1114.71 920.11 L1115.87 923.43 L1117.04 926.75 L1118.20 930.07 L1119.37 933.39 L1120.53 936.71 L1121.69 940.03 L1122.86 943.34 L1124.02 946.66 L1125.19 949.98 L1126.35 953.29 L1127.51 956.61 L1128.68 959.92 L1129.84 963.24 L1131.01 966.55 L1132.17 969.87 L1133.33 973.18 L1134.50 976.50 L1135.66 979.81 L1136.83 983.12 L1137.99 986.44 L1139.15 989.75 L1140.32 993.06 L1141.48 996.38 L1142.65 999.69 L1143.81 1003.00 L1144.97 1006.31 L1146.14 1009.62 L1147.30 1012.93 L1148.47 1016.24 L1149.63 1019.56 L1150.79 1022.87 L1151.96 1026.18 L1153.12 1029.49 L1154.29 1032.80 L1155.45 1036.11 L1156.61 1039.41 L1157.78 1042.72 L1158.94 1046.03 L1160.11 1049.34 L1161.27 1052.65 L1162.43 1055.96 L1163.60 1059.27 L1164.76 1062.57 L1165.93 1065.88 L1167.09 1069.19 L1168.25 1072.50 L1169.42 1075.80 L1170.58 1079.11 L1171.75 1082.42 L1172.91 1085.72 L1174.07 1089.03 L1175.24 1092.34 L1176.40 1095.64 L1177.57 1098.95 L1178.73 1102.25 L1179.89 1105.56 L1181.06 1108.87 L1182.22 1112.17 L1183.39 1115.48 L1184.55 1118.78 L1185.71 1122.09" stroke="#77AC30" stroke-width="3.4" stroke-linejoin="round"/>
<path d="M812.83 939.4V20" stroke="#77AC30" stroke-width="3.0" stroke-dasharray="13.2 9.7"/>
<path d="M885.29 -12.56 L886.46 -4.21 L887.62 3.86 L888.79 11.66 L889.95 19.23 L891.11 26.57 L892.28 33.72 L893.44 40.68 L894.61 47.48 L895.77 54.11 L896.93 60.59 L898.10 66.94 L899.26 73.15 L900.43 79.25 L901.59 85.23 L902.75 91.11 L903.92 96.88 L905.08 102.56 L906.25 108.15 L907.41 113.66 L908.57 119.09 L909.74 124.44 L910.90 129.72 L912.07 134.93 L913.23 140.07 L914.39 145.16 L915.56 150.18 L916.72 155.15 L917.89 160.07 L919.05 164.93 L920.21 169.75 L921.38 174.52 L922.54 179.24 L923.71 183.92 L924.87 188.56 L926.03 193.16 L927.20 197.72 L928.36 202.25 L929.53 206.74 L930.69 211.19 L931.85 215.62 L933.02 220.01 L934.18 224.37 L935.35 228.71 L936.51 233.01 L937.67 237.29 L938.84 241.55 L940.00 245.77 L941.17 249.98 L942.33 254.16 L943.49 258.32 L944.66 262.45 L945.82 266.57 L946.99 270.66 L948.15 274.74 L949.31 278.79 L950.48 282.83 L951.64 286.85 L952.81 290.85 L953.97 294.83 L955.13 298.80 L956.30 302.75 L957.46 306.69 L958.63 310.61 L959.79 314.51 L960.95 318.41 L962.12 322.29 L963.28 326.15 L964.45 330.00 L965.61 333.84 L966.77 337.67 L967.94 341.49 L969.10 345.29 L970.27 349.08 L971.43 352.87 L972.59 356.64 L973.76 360.40 L974.92 364.15 L976.09 367.89 L977.25 371.62 L978.41 375.34 L979.58 379.06 L980.74 382.76 L981.91 386.45 L983.07 390.14 L984.23 393.82 L985.40 397.49 L986.56 401.15 L987.73 404.81 L988.89 408.46 L990.05 412.10 L991.22 415.73 L992.38 419.36 L993.55 422.98 L994.71 426.59 L995.87 430.20 L997.04 433.80 L998.20 437.39 L999.37 440.98 L1000.53 444.56 L1001.69 448.14 L1002.86 451.71 L1004.02 455.28 L1005.19 458.84 L1006.35 462.39 L1007.51 465.94 L1008.68 469.49 L1009.84 473.03 L1011.01 476.57 L1012.17 480.10 L1013.33 483.62 L1014.50 487.15 L1015.66 490.66 L1016.83 494.18 L1017.99 497.69 L1019.15 501.19 L1020.32 504.69 L1021.48 508.19 L1022.65 511.68 L1023.81 515.17 L1024.97 518.66 L1026.14 522.14 L1027.30 525.62 L1028.47 529.10 L1029.63 532.57 L1030.79 536.04 L1031.96 539.50 L1033.12 542.97 L1034.29 546.43 L1035.45 549.88 L1036.61 553.34 L1037.78 556.79 L1038.94 560.23 L1040.11 563.68 L1041.27 567.12 L1042.43 570.56 L1043.60 574.00 L1044.76 577.43 L1045.93 580.86 L1047.09 584.29 L1048.25 587.72 L1049.42 591.15 L1050.58 594.57 L1051.75 597.99 L1052.91 601.41 L1054.07 604.82 L1055.24 608.24 L1056.40 611.65 L1057.57 615.06 L1058.73 618.46 L1059.89 621.87 L1061.06 625.27 L1062.22 628.67 L1063.39 632.07 L1064.55 635.47 L1065.71 638.87 L1066.88 642.26 L1068.04 645.65 L1069.21 649.04 L1070.37 652.43 L1071.53 655.82 L1072.70 659.21 L1073.86 662.59 L1075.03 665.97 L1076.19 669.36 L1077.35 672.74 L1078.52 676.11 L1079.68 679.49 L1080.85 682.87 L1082.01 686.24 L1083.17 689.61 L1084.34 692.98 L1085.50 696.35 L1086.67 699.72 L1087.83 703.09 L1088.99 706.46 L1090.16 709.82 L1091.32 713.19 L1092.49 716.55 L1093.65 719.91 L1094.81 723.27 L1095.98 726.63 L1097.14 729.99 L1098.31 733.35 L1099.47 736.70 L1100.64 740.06 L1101.80 743.41 L1102.96 746.76 L1104.13 750.12 L1105.29 753.47 L1106.46 756.82 L1107.62 760.17 L1108.78 763.52 L1109.95 766.86 L1111.11 770.21 L1112.28 773.56 L1113.44 776.90 L1114.60 780.25 L1115.77 783.59 L1116.93 786.93 L1118.10 790.27 L1119.26 793.61 L1120.42 796.95 L1121.59 800.29 L1122.75 803.63 L1123.92 806.97 L1125.08 810.31 L1126.24 813.64 L1127.41 816.98 L1128.57 820.32 L1129.74 823.65 L1130.90 826.98 L1132.06 830.32 L1133.23 833.65 L1134.39 836.98 L1135.56 840.31 L1136.72 843.64 L1137.88 846.98 L1139.05 850.31 L1140.21 853.63 L1141.38 856.96 L1142.54 860.29 L1143.70 863.62 L1144.87 866.95 L1146.03 870.27 L1147.20 873.60 L1148.36 876.92 L1149.52 880.25 L1150.69 883.57 L1151.85 886.90 L1153.02 890.22 L1154.18 893.54 L1155.34 896.87 L1156.51 900.19 L1157.67 903.51 L1158.84 906.83 L1160.00 910.15 L1161.16 913.47 L1162.33 916.79 L1163.49 920.11 L1164.66 923.43 L1165.82 926.75 L1166.98 930.07 L1168.15 933.39 L1169.31 936.71 L1170.48 940.03 L1171.64 943.34 L1172.80 946.66 L1173.97 949.98 L1175.13 953.29 L1176.30 956.61 L1177.46 959.92 L1178.62 963.24 L1179.79 966.55 L1180.95 969.87 L1182.12 973.18 L1183.28 976.50 L1184.44 979.81 L1185.61 983.12 L1186.77 986.44 L1187.94 989.75 L1189.10 993.06 L1190.26 996.38 L1191.43 999.69 L1192.59 1003.00 L1193.76 1006.31 L1194.92 1009.62 L1196.08 1012.93 L1197.25 1016.24 L1198.41 1019.56 L1199.58 1022.87 L1200.74 1026.18 L1201.90 1029.49 L1203.07 1032.80 L1204.23 1036.11 L1205.40 1039.41 L1206.56 1042.72 L1207.72 1046.03 L1208.89 1049.34 L1210.05 1052.65 L1211.22 1055.96 L1212.38 1059.27 L1213.54 1062.57 L1214.71 1065.88 L1215.87 1069.19 L1217.04 1072.50 L1218.20 1075.80 L1219.36 1079.11 L1220.53 1082.42 L1221.69 1085.72 L1222.86 1089.03 L1224.02 1092.34 L1225.18 1095.64 L1226.35 1098.95 L1227.51 1102.25 L1228.68 1105.56 L1229.84 1108.87 L1231.00 1112.17 L1232.17 1115.48 L1233.33 1118.78 L1234.50 1122.09" stroke="#4DBEEE" stroke-width="3.4" stroke-linejoin="round"/>
<path d="M861.61 939.4V20" stroke="#4DBEEE" stroke-width="3.0" stroke-dasharray="13.2 9.7"/>
<path d="M115.65 219.53H1250.2" stroke="#ff0000" stroke-width="3.0" stroke-dasharray="12.3 10.6"/>
</g>
<text transform="translate(43.96 957.38) scale(1 1.035)" font-family="'Liberation Serif', serif" font-size="36.3" fill="#262626">10</text>
<text x="80.26" y="939.98" font-family="'Liberation Serif', serif" font-size="28.5" fill="#262626">-4</text>
<text transform="translate(43.96 804.40) scale(1 1.035)" font-family="'Liberation Serif', serif" font-size="36.3" fill="#262626">10</text>
<text x="80.26" y="787.00" font-family="'Liberation Serif', serif" font-size="28.5" fill="#262626">-3</text>
<text transform="translate(43.96 651.42) scale(1 1.035)" font-family="'Liberation Serif', serif" font-size="36.3" fill="#262626">10</text>
<text x="80.26" y="634.02" font-family="'Liberation Serif', serif" font-size="28.5" fill="#262626">-2</text>
<text transform="translate(43.96 498.44) scale(1 1.035)" font-family="'Liberation Serif', serif" font-size="36.3" fill="#262626">10</text>
<text x="80.26" y="481.04" font-family="'Liberation Serif', serif" font-size="28.5" fill="#262626">-1</text>
<text transform="translate(53.45 345.46) scale(1 1.035)" font-family="'Liberation Serif', serif" font-size="36.3" fill="#262626">10</text>
<text x="89.75" y="328.06" font-family="'Liberation Serif', serif" font-size="28.5" fill="#262626">0</text>
<text transform="translate(53.45 192.48) scale(1 1.035)" font-family="'Liberation Serif', serif" font-size="36.3" fill="#262626">10</text>
<text x="89.75" y="175.08" font-family="'Liberation Serif', serif" font-size="28.5" fill="#262626">1</text>
<text transform="translate(53.45 39.50) scale(1 1.035)" font-family="'Liberation Serif', serif" font-size="36.3" fill="#262626">10</text>
<text x="89.75" y="22.10" font-family="'Liberation Serif', serif" font-size="28.5" fill="#262626">2</text>
<text transform="translate(252.12 993.85) scale(1 1.035)" font-family="'Liberation Serif', serif" font-size="36.3" fill="#262626">10</text>
<text x="288.42" y="976.90" font-family="'Liberation Serif', serif" font-size="28.5" fill="#262626">2</text>
<text transform="translate(576.23 993.85) scale(1 1.035)" font-family="'Liberation Serif', serif" font-size="36.3" fill="#262626">10</text>
<text x="612.52" y="976.90" font-family="'Liberation Serif', serif" font-size="28.5" fill="#262626">4</text>
<text transform="translate(900.33 993.85) scale(1 1.035)" font-family="'Liberation Serif', serif" font-size="36.3" fill="#262626">10</text>
<text x="936.62" y="976.90" font-family="'Liberation Serif', serif" font-size="28.5" fill="#262626">6</text>
<text transform="translate(1224.42 993.85) scale(1 1.035)" font-family="'Liberation Serif', serif" font-size="36.3" fill="#262626">10</text>
<text x="1260.72" y="976.90" font-family="'Liberation Serif', serif" font-size="28.5" fill="#262626">8</text>
<text transform="translate(26.5 622.70) rotate(-90) scale(1.03 1)" x="0" y="0" font-family="'Liberation Serif', serif" font-size="38.2" fill="#262626">Relative error (%)</text>
<path d="M583.2 1011.3 L611.0 1011.3 L597.5 1038.6 Z M587.9 1014.0 L608.3 1014.0 L598.4 1034.2 Z" fill="#000" fill-rule="evenodd"/>
<text transform="translate(615.64 1038.00) scale(1.14 1)" x="0" y="0" font-family="'Liberation Serif', serif" font-size="39.8" fill="#000" font-style="italic">P</text>
<text transform="translate(660.01 1039.20) scale(0.85 1.05)" x="0" y="0" font-family="'Liberation Serif', serif" font-size="39.8" fill="#000">(</text>
<text transform="translate(672.84 1038.00) scale(1.1 1.0)" x="0" y="0" font-family="'Liberation Serif', serif" font-size="39.8" fill="#000">P</text>
<text transform="translate(699.10 1038.00) scale(1.07 1.0)" x="0" y="0" font-family="'Liberation Serif', serif" font-size="39.8" fill="#000">a</text>
<text transform="translate(721.00 1046.00) scale(1.0 1.41)" x="0" y="0" font-family="'Liberation Serif', serif" font-size="39.8" fill="#000">/</text>
<text transform="translate(737.43 1038.00) scale(1.04 1.0)" x="0" y="0" font-family="'Liberation Serif', serif" font-size="39.8" fill="#000">m</text>
<text transform="translate(771.31 1039.20) scale(0.85 1.05)" x="0" y="0" font-family="'Liberation Serif', serif" font-size="39.8" fill="#000">)</text>
<text x="973.23" y="204.60" font-family="'Liberation Sans', sans-serif" font-size="31.75" text-anchor="start" fill="#ff0000">5% error threshold</text>
<path d="M159.3 531.60H279.8" stroke="#0072BD" stroke-width="3"/>
<path d="M289.6 526.40 C290.8 523.40 292.6 521.80 296.5 521.80 L309.4 521.80" stroke="#000" stroke-width="2.6" fill="none"/>
<path d="M299.4 521.50 L302.0 521.50 L298.6 537.60 Q297.2 538.60 295.6 537.60 Z" fill="#000"/>
<text transform="translate(307.13 556.70) scale(1.0 1.1)" x="0" y="0" font-family="'Liberation Serif', serif" font-size="30.7" fill="#000">0</text>
<path d="M333.5 521.80H354.5M333.5 528.40H354.5" stroke="#000" stroke-width="1.9"/>
<text transform="translate(365.80 538.00) scale(1.0 1.03)" x="0" y="0" font-family="'Liberation Serif', serif" font-size="38.5" fill="#000">0.5</text>
<text transform="translate(425.69 538.00) scale(1.0 1.0)" x="0" y="0" font-family="'Liberation Serif', serif" font-size="38.5" fill="#000">Pa</text>
<path d="M159.3 598.55H279.8" stroke="#D95319" stroke-width="3"/>
<path d="M289.6 593.35 C290.8 590.35 292.6 588.75 296.5 588.75 L309.4 588.75" stroke="#000" stroke-width="2.6" fill="none"/>
<path d="M299.4 588.45 L302.0 588.45 L298.6 604.55 Q297.2 605.55 295.6 604.55 Z" fill="#000"/>
<text transform="translate(307.13 623.65) scale(1.0 1.1)" x="0" y="0" font-family="'Liberation Serif', serif" font-size="30.7" fill="#000">0</text>
<path d="M333.5 588.75H354.5M333.5 595.35H354.5" stroke="#000" stroke-width="1.9"/>
<text transform="translate(365.80 604.95) scale(1.0 1.03)" x="0" y="0" font-family="'Liberation Serif', serif" font-size="38.5" fill="#000">1</text>
<text transform="translate(395.59 604.95) scale(1.0 1.0)" x="0" y="0" font-family="'Liberation Serif', serif" font-size="38.5" fill="#000">Pa</text>
<path d="M159.3 665.50H279.8" stroke="#EDB120" stroke-width="3"/>
<path d="M289.6 660.30 C290.8 657.30 292.6 655.70 296.5 655.70 L309.4 655.70" stroke="#000" stroke-width="2.6" fill="none"/>
<path d="M299.4 655.40 L302.0 655.40 L298.6 671.50 Q297.2 672.50 295.6 671.50 Z" fill="#000"/>
<text transform="translate(307.13 690.60) scale(1.0 1.1)" x="0" y="0" font-family="'Liberation Serif', serif" font-size="30.7" fill="#000">0</text>
<path d="M333.5 655.70H354.5M333.5 662.30H354.5" stroke="#000" stroke-width="1.9"/>
<text transform="translate(365.80 671.90) scale(1.0 1.03)" x="0" y="0" font-family="'Liberation Serif', serif" font-size="38.5" fill="#000">5</text>
<text transform="translate(395.59 671.90) scale(1.0 1.0)" x="0" y="0" font-family="'Liberation Serif', serif" font-size="38.5" fill="#000">Pa</text>
<path d="M159.3 732.45H279.8" stroke="#7E2F8E" stroke-width="3"/>
<path d="M289.6 727.25 C290.8 724.25 292.6 722.65 296.5 722.65 L309.4 722.65" stroke="#000" stroke-width="2.6" fill="none"/>
<path d="M299.4 722.35 L302.0 722.35 L298.6 738.45 Q297.2 739.45 295.6 738.45 Z" fill="#000"/>
<text transform="translate(307.13 757.55) scale(1.0 1.1)" x="0" y="0" font-family="'Liberation Serif', serif" font-size="30.7" fill="#000">0</text>
<path d="M333.5 722.65H354.5M333.5 729.25H354.5" stroke="#000" stroke-width="1.9"/>
<text transform="translate(365.80 738.85) scale(1.0 1.03)" x="0" y="0" font-family="'Liberation Serif', serif" font-size="38.5" fill="#000">10</text>
<text transform="translate(414.19 738.85) scale(1.0 1.0)" x="0" y="0" font-family="'Liberation Serif', serif" font-size="38.5" fill="#000">Pa</text>
<path d="M159.3 799.40H279.8" stroke="#77AC30" stroke-width="3"/>
<path d="M289.6 794.20 C290.8 791.20 292.6 789.60 296.5 789.60 L309.4 789.60" stroke="#000" stroke-width="2.6" fill="none"/>
<path d="M299.4 789.30 L302.0 789.30 L298.6 805.40 Q297.2 806.40 295.6 805.40 Z" fill="#000"/>
<text transform="translate(307.13 824.50) scale(1.0 1.1)" x="0" y="0" font-family="'Liberation Serif', serif" font-size="30.7" fill="#000">0</text>
<path d="M333.5 789.60H354.5M333.5 796.20H354.5" stroke="#000" stroke-width="1.9"/>
<text transform="translate(365.80 805.80) scale(1.0 1.03)" x="0" y="0" font-family="'Liberation Serif', serif" font-size="38.5" fill="#000">50</text>
<text transform="translate(414.19 805.80) scale(1.0 1.0)" x="0" y="0" font-family="'Liberation Serif', serif" font-size="38.5" fill="#000">Pa</text>
<path d="M159.3 866.35H279.8" stroke="#4DBEEE" stroke-width="3"/>
<path d="M289.6 861.15 C290.8 858.15 292.6 856.55 296.5 856.55 L309.4 856.55" stroke="#000" stroke-width="2.6" fill="none"/>
<path d="M299.4 856.25 L302.0 856.25 L298.6 872.35 Q297.2 873.35 295.6 872.35 Z" fill="#000"/>
<text transform="translate(307.13 891.45) scale(1.0 1.1)" x="0" y="0" font-family="'Liberation Serif', serif" font-size="30.7" fill="#000">0</text>
<path d="M333.5 856.55H354.5M333.5 863.15H354.5" stroke="#000" stroke-width="1.9"/>
<text transform="translate(365.80 872.75) scale(1.0 1.03)" x="0" y="0" font-family="'Liberation Serif', serif" font-size="38.5" fill="#000">100</text>
<text transform="translate(434.39 872.75) scale(1.0 1.0)" x="0" y="0" font-family="'Liberation Serif', serif" font-size="38.5" fill="#000">Pa</text>
</g>
</svg>
</body></html>
